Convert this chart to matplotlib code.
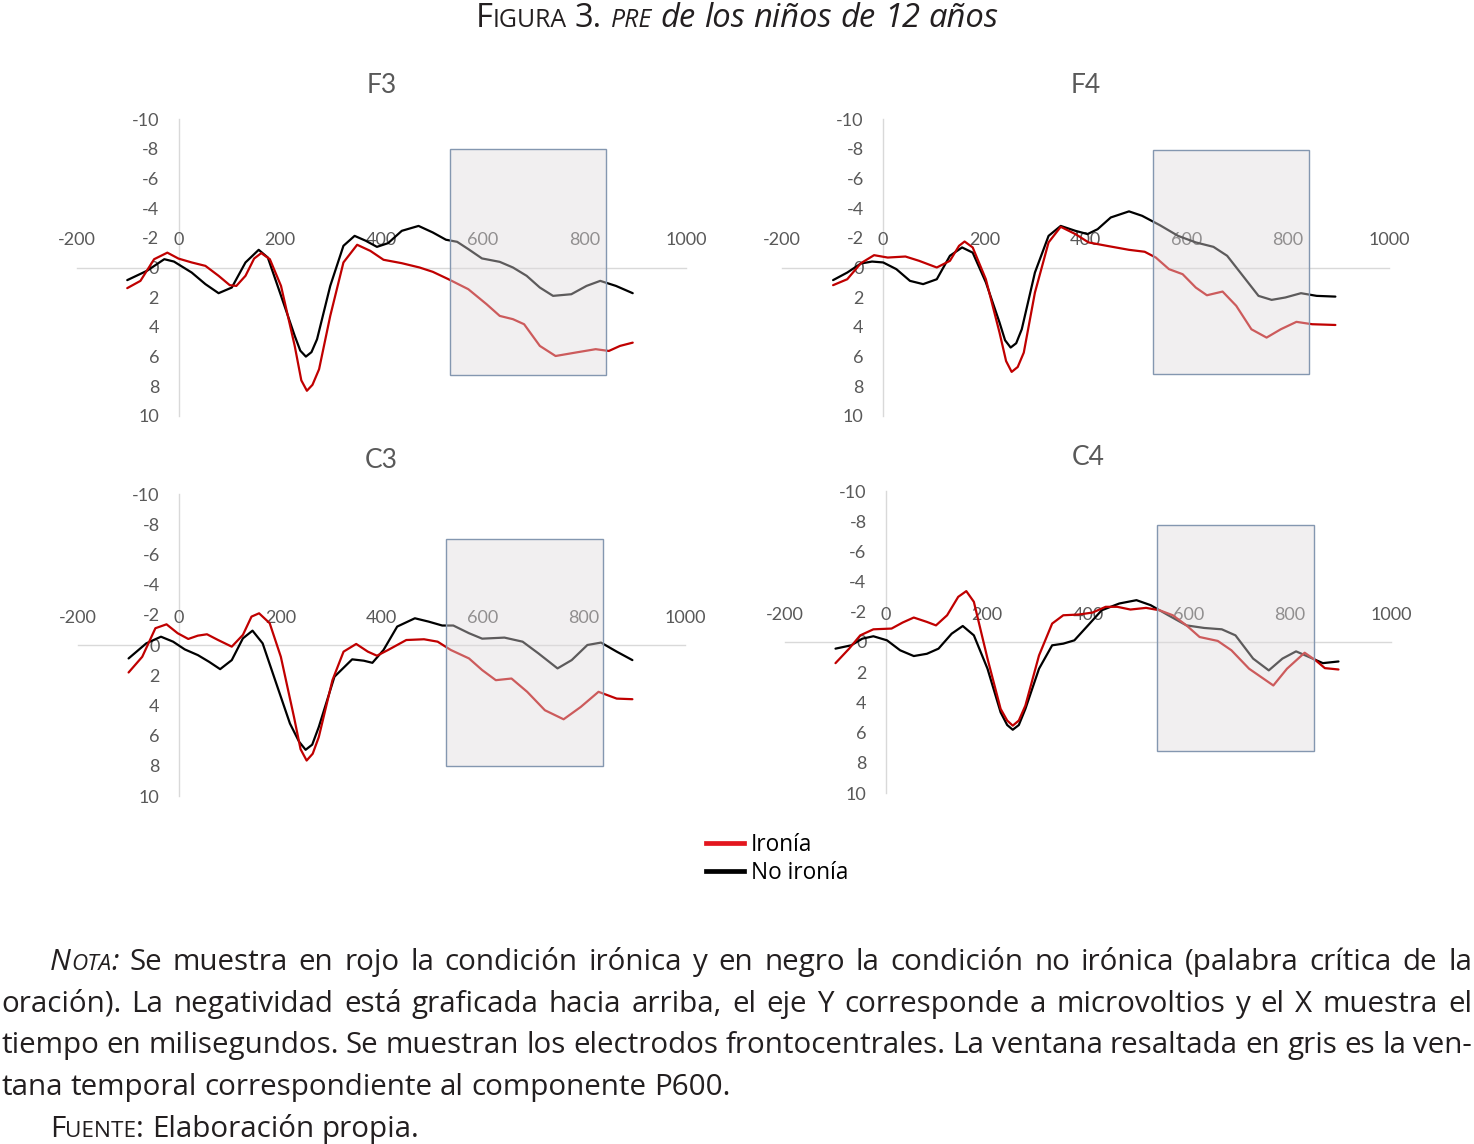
import numpy as np
import matplotlib
matplotlib.use("Agg")
import matplotlib.pyplot as plt
from matplotlib.patches import Rectangle
from matplotlib.lines import Line2D

# ---- data (ms, microvolts; negative plotted up) ----
f3_t_blk = [-101, -62, -28, -9, 26, 53, 79, 105, 132, 158, 176, 202, 229, 240, 251, 262, 273, 299, 325, 347, 369, 391,
            413, 440, 473, 501, 527, 549, 571, 598, 633, 659, 686, 712, 738, 774, 804, 831, 862, 895]
f3_blk = [0.85, 0.22, -0.56, -0.4, 0.34, 1.12, 1.73, 1.35, -0.34, -1.19, -0.67, 1.9, 4.6, 5.6, 6.0, 5.7, 4.83, 1.24,
          -1.46, -2.13, -1.8, -1.39, -1.64, -2.47, -2.8, -2.36, -1.87, -1.73, -1.24, -0.61, -0.38, 0.0, 0.56, 1.35,
          1.91, 1.8, 1.24, 0.9, 1.24, 1.73]
f3_t_red = [-101, -75, -48, -22, 0, 26, 53, 79, 101, 114, 132, 149, 163, 180, 202, 229, 242, 253, 264, 277, 299, 325,
            352, 378, 404, 440, 475, 501, 532, 571, 607, 633, 659, 681, 712, 743, 782, 822, 848, 870, 895]
f3_red = [1.39, 0.9, -0.56, -1.0, -0.6, -0.34, -0.11, 0.56, 1.19, 1.24, 0.56, -0.6, -0.97, -0.56, 1.24, 5.28, 7.6,
          8.3, 7.9, 6.85, 3.26, -0.34, -1.53, -1.12, -0.52, -0.29, 0.0, 0.29, 0.79, 1.46, 2.47, 3.26, 3.48, 3.82,
          5.28, 5.96, 5.73, 5.5, 5.62, 5.28, 5.06]

f4_t_blk = [-99, -71, -44, -22, 0, 26, 53, 79, 106, 132, 156, 177, 203, 230, 241, 252, 263, 274, 300, 327, 351, 380,
            404, 424, 450, 486, 512, 547, 583, 618, 653, 680, 706, 742, 768, 795, 826, 857, 894]
f4_blk = [0.85, 0.34, -0.27, -0.4, -0.34, 0.11, 0.9, 1.12, 0.79, -0.79, -1.35, -1.0, 1.0, 3.7, 4.9, 5.39, 5.1, 4.16,
          0.34, -2.13, -2.8, -2.47, -2.25, -2.58, -3.37, -3.78, -3.48, -2.85, -2.13, -1.69, -1.39, -0.79, 0.34, 1.91,
          2.18, 2.02, 1.73, 1.91, 1.96]
f4_t_red = [-99, -71, -44, -18, 9, 44, 71, 106, 132, 150, 161, 177, 203, 230, 243, 254, 266, 278, 300, 327, 351, 380,
            406, 442, 486, 517, 539, 565, 592, 618, 640, 671, 698, 728, 758, 786, 817, 848, 894]
f4_red = [1.19, 0.79, -0.29, -0.83, -0.67, -0.74, -0.45, 0.0, -0.45, -1.46, -1.75, -1.35, 0.79, 4.38, 6.3, 7.03,
          6.7, 5.73, 1.69, -1.69, -2.74, -2.25, -1.69, -1.46, -1.19, -1.06, -0.67, 0.11, 0.45, 1.35, 1.87, 1.62,
          2.58, 4.16, 4.72, 4.16, 3.66, 3.82, 3.87]

c3_t_blk = [-100, -65, -36, -12, 11, 37, 59, 81, 104, 126, 145, 165, 192, 219, 237, 250, 263, 276, 307, 342, 365, 382,
            404, 431, 466, 493, 520, 542, 573, 599, 643, 679, 710, 748, 776, 807, 834, 865, 896]
c3_blk = [0.89, -0.11, -0.55, -0.22, 0.29, 0.67, 1.11, 1.6, 1.0, -0.44, -0.95, -0.11, 2.55, 5.2, 6.4, 6.94, 6.6,
          5.43, 2.1, 0.95, 1.04, 1.18, 0.33, -1.22, -1.77, -1.55, -1.29, -1.29, -0.78, -0.42, -0.49, -0.22, 0.55,
          1.55, 1.0, 0.0, -0.16, 0.44, 1.0]
c3_t_red = [-100, -73, -47, -25, -3, 18, 37, 55, 77, 104, 126, 143, 158, 179, 201, 227, 240, 252, 264, 276, 303, 325,
            350, 373, 391, 413, 449, 484, 511, 537, 573, 599, 626, 657, 688, 723, 760, 794, 829, 865, 896]
c3_red = [1.82, 0.78, -1.11, -1.37, -0.78, -0.4, -0.62, -0.71, -0.33, 0.11, -0.67, -1.88, -2.1, -1.44, 0.78, 4.77,
          6.9, 7.65, 7.2, 6.1, 2.33, 0.44, -0.07, 0.44, 0.71, 0.33, -0.33, -0.38, -0.22, 0.33, 0.89, 1.66, 2.33,
          2.22, 3.1, 4.32, 4.92, 4.1, 3.1, 3.55, 3.59]

c4_t_blk = [-100, -69, -47, -25, 2, 28, 55, 81, 104, 130, 152, 174, 201, 227, 240, 251, 263, 276, 303, 329, 351, 373,
            400, 427, 462, 496, 524, 559, 595, 630, 665, 692, 727, 758, 785, 812, 838, 865, 896]
c4_blk = [0.44, 0.22, -0.22, -0.38, -0.11, 0.55, 0.93, 0.78, 0.44, -0.55, -1.06, -0.44, 1.77, 4.66, 5.5, 5.81, 5.5,
          4.43, 1.77, 0.22, 0.11, -0.11, -1.1, -2.1, -2.55, -2.77, -2.44, -1.77, -1.1, -0.93, -0.84, -0.44, 1.1,
          1.88, 1.1, 0.62, 1.0, 1.4, 1.29]
c4_t_red = [-100, -73, -51, -25, 11, 33, 55, 81, 99, 121, 143, 159, 174, 201, 227, 240, 251, 263, 276, 303, 329, 351,
            382, 409, 435, 458, 484, 515, 542, 568, 595, 621, 657, 684, 719, 767, 794, 829, 851, 869, 896]
c4_red = [1.4, 0.44, -0.44, -0.84, -0.89, -1.29, -1.62, -1.33, -1.1, -1.77, -2.99, -3.37, -2.66, 1.1, 4.43, 5.2,
          5.54, 5.2, 4.21, 0.89, -1.22, -1.77, -1.82, -1.95, -2.33, -2.33, -2.15, -2.26, -2.1, -1.77, -1.1, -0.33,
          -0.07, 0.55, 1.77, 2.88, 1.77, 0.71, 1.22, 1.73, 1.82]

# P600 window drawn on each panel (t0, t1, v0, v1)
win_f3 = (534, 842, -8.0, 7.25)
win_f4 = (533, 842, -7.9, 7.15)
win_c3 = (527, 838, -7.0, 8.0)
win_c4 = (537, 847, -7.75, 7.25)

x_ticks = [-200, 0, 200, 400, 600, 800, 1000]
y_ticks = [-10, -8, -6, -4, -2, 0, 2, 4, 6, 8, 10]
labels = ["Ironía", "No ironía"]

W, H = 1474, 1144
fig = plt.figure(figsize=(W / 100, H / 100), dpi=100)

GRAY = "#595959"
RED = "#c00000"
chart_font = "Lato"

panels = [
    ("F3", (77, 686, 119, 416), f3_t_red, f3_red, f3_t_blk, f3_blk, win_f3),
    ("F4", (782, 1389, 119, 416), f4_t_red, f4_red, f4_t_blk, f4_blk, win_f4),
    ("C3", (78, 685, 494, 796), c3_t_red, c3_red, c3_t_blk, c3_blk, win_c3),
    ("C4", (785, 1391, 491, 793), c4_t_red, c4_red, c4_t_blk, c4_blk, win_c4),
]

for name, (x0, x1, y0, y1), tr, vr, tb, vb, win in panels:
    ax = fig.add_axes([x0 / W, 1 - y1 / H, (x1 - x0) / W, (y1 - y0) / H])
    ax.set_xlim(-200, 1000)
    ax.set_ylim(10, -10)
    ax.patch.set_alpha(0)
    ax.plot(tb, vb, color="black", lw=1.6, zorder=2, solid_joinstyle="round", solid_capstyle="round")
    ax.plot(tr, vr, color=RED, lw=1.6, zorder=3, solid_joinstyle="round", solid_capstyle="round")
    t0, t1, v0, v1 = win
    ax.add_patch(Rectangle((t0, v0), t1 - t0, v1 - v0, facecolor=(0.875, 0.855, 0.863, 0.42),
                           edgecolor="#8497b0", lw=1.0, zorder=4))
    for s in ["right", "bottom"]:
        ax.spines[s].set_visible(False)
    ax.spines["left"].set_position(("data", 0))
    ax.spines["top"].set_position(("data", 0))
    for s in ["left", "top"]:
        ax.spines[s].set_color("#d9d9d9")
        ax.spines[s].set_linewidth(1.0)
        ax.spines[s].set_zorder(1)
    ax.xaxis.set_ticks_position("top")
    ax.set_xticks(x_ticks)
    ax.set_yticks(y_ticks)
    ax.set_xticklabels([str(v) for v in x_ticks])
    ax.set_yticklabels([str(v) for v in y_ticks])
    ax.tick_params(axis="both", length=0, labelsize=13, labelcolor=GRAY)
    ax.tick_params(axis="x", pad=14)
    ax.tick_params(axis="y", pad=14)
    for lab in ax.get_xticklabels() + ax.get_yticklabels():
        lab.set_fontfamily(chart_font)
    ax.set_title(name, fontsize=19, color=GRAY, family=chart_font, pad=19)

handles = [Line2D([], [], color="#e3161e", lw=3.4), Line2D([], [], color="black", lw=3.4)]
fig.legend(handles, labels, loc="upper left", bbox_to_anchor=(686 / W, 1 - 813 / H), frameon=False,
           prop={"family": "Open Sans", "size": 16.3}, handlelength=1.65, handletextpad=0.3, labelspacing=0.15)

# ---- title and caption: mixed styles, laid out with measured widths ----
renderer = fig.canvas.get_renderer()
cap_font = "Open Sans"


def style(kind, size):
    small = size * 0.76
    if kind == "r":
        return dict(fontsize=size, fontstyle="normal")
    if kind == "i":
        return dict(fontsize=size, fontstyle="italic")
    if kind == "sc":
        return dict(fontsize=small, fontstyle="normal")
    return dict(fontsize=small, fontstyle="italic")


def width_of(s, kw):
    t = fig.text(0, 0, s, family=cap_font, **kw)
    w = t.get_window_extent(renderer).width
    t.remove()
    return w


def word_width(word, size):
    return sum(width_of(s, style(k, size)) for s, k in word)


def draw_words(words, x_left, base, size, x_right=None):
    ws = [word_width(w, size) for w in words]
    gap = width_of("a a", style("r", size)) - width_of("aa", style("r", size))
    if x_right is not None and len(words) > 1:
        gap = (x_right - x_left - sum(ws)) / (len(words) - 1)
    x = x_left
    for w, wd in zip(words, ws):
        xx = x
        for s, k in w:
            kw = style(k, size)
            fig.text(xx / W, 1 - base / H, s, family=cap_font, va="baseline", ha="left", color="#231f20", **kw)
            xx += width_of(s, kw)
        x += wd + gap
    return x


def plain(text, kind="r"):
    return [[(w, kind)] for w in text.split()]


# title
title_words = [[("F", "r"), ("IGURA", "sc")], [("3.", "r")], [("PRE", "isc")]] + plain("de los niños de 12 años", "i")
tsize = 23.6
tw = sum(word_width(w, tsize) for w in title_words)
tw += (len(title_words) - 1) * (width_of("a a", style("r", tsize)) - width_of("aa", style("r", tsize)))
draw_words(title_words, 737 - tw / 2, 27, tsize)

csize = 21.3
line1 = [[("N", "i"), ("OTA", "isc"), (":", "i")]] + plain(
    "Se muestra en rojo la condición irónica y en negro la condición no irónica (palabra crítica de la")
line2 = plain("oración). La negatividad está graficada hacia arriba, el eje Y corresponde a microvoltios y el X muestra el")
line3 = plain("tiempo en milisegundos. Se muestran los electrodos frontocentrales. La ventana resaltada en gris es la ven-")
line4 = plain("tana temporal correspondiente al componente P600.")
line5 = [[("F", "r"), ("UENTE", "sc"), (":", "r")]] + plain("Elaboración propia.")

draw_words(line1, 50, 970, csize, 1472)
draw_words(line2, 1, 1012, csize, 1472)
draw_words(line3, 1, 1053, csize, 1472)
draw_words(line4, 1, 1095, csize)
draw_words(line5, 50, 1137, csize)

fig.savefig("out.png", dpi=100)
